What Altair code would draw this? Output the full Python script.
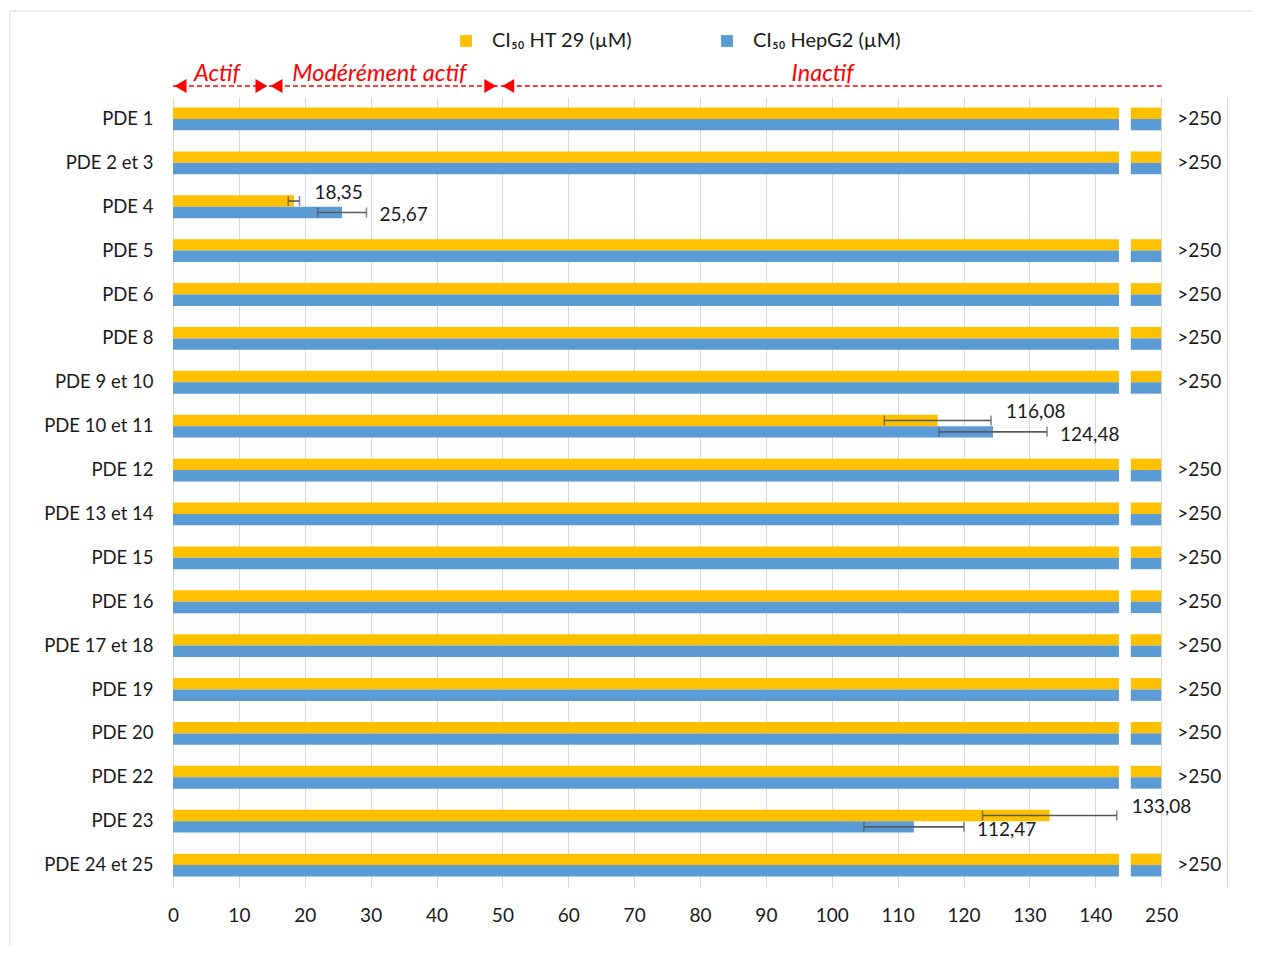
import altair as alt
import pandas as pd

# ---------------- data ----------------
categories = ["PDE 1", "PDE 2 et 3", "PDE 4", "PDE 5", "PDE 6", "PDE 8", "PDE 9 et 10",
              "PDE 10 et 11", "PDE 12", "PDE 13 et 14", "PDE 15", "PDE 16", "PDE 17 et 18",
              "PDE 19", "PDE 20", "PDE 22", "PDE 23", "PDE 24 et 25"]
# 250 stands for ">250" (inactive, off-scale)
ht29 = [250, 250, 18.35, 250, 250, 250, 250, 116.08, 250, 250, 250, 250, 250, 250, 250, 250, 133.08, 250]
hepg2 = [250, 250, 25.67, 250, 250, 250, 250, 124.48, 250, 250, 250, 250, 250, 250, 250, 250, 112.47, 250]
ht29_err = [0, 0, 0.85, 0, 0, 0, 0, 8.1, 0, 0, 0, 0, 0, 0, 0, 0, 10.2, 0]
hepg2_err = [0, 0, 3.7, 0, 0, 0, 0, 8.2, 0, 0, 0, 0, 0, 0, 0, 0, 7.6, 0]

series_names = ["CI\u2085\u2080 HT 29 (\u00b5M)", "CI\u2085\u2080 HepG2 (\u00b5M)"]
series_colors = ["#FFC000", "#5B9BD5"]

tick_values = [0, 10, 20, 30, 40, 50, 60, 70, 80, 90, 100, 110, 120, 130, 140, 150, 160]

zone_labels = ["Actif", "Modérément actif", "Inactif"]
zone_start = [0, 14.57, 49.75]
zone_end = [14.57, 49.3, 150.3]

# axis break: values >= 250 are drawn up to 150 with a gap
BREAK_LO, BREAK_HI, CAP = 143.6, 145.4, 150

FONT = "Lato, Carlito, DejaVu Sans"

# ---------------- tables ----------------
bars, errs, labels, over = [], [], [], []
for i, c in enumerate(categories):
    for s, vals, ers in ((series_names[0], ht29, ht29_err), (series_names[1], hepg2, hepg2_err)):
        v = vals[i]
        if v >= 250:
            bars.append(dict(cat=c, s=s, x0=0, x1=BREAK_LO))
            bars.append(dict(cat=c, s=s, x0=BREAK_HI, x1=CAP))
        else:
            bars.append(dict(cat=c, s=s, x0=0, x1=v))
            e = ers[i]
            errs.append(dict(cat=c, s=s, lo=v - e, hi=v + e))
            labels.append(dict(cat=c, s=s, hi=v + e, txt=f"{v:.2f}".replace(".", ",")))
    if ht29[i] >= 250 and hepg2[i] >= 250:
        over.append(dict(cat=c, txt=">250", x=155.8))

bars_df = pd.DataFrame(bars)
errs_df = pd.DataFrame(errs)
labels_df = pd.DataFrame(labels)
over_df = pd.DataFrame(over)
zones_df = pd.DataFrame(dict(lab=zone_labels, x0=zone_start, x1=zone_end,
                             mid=[(a + b) / 2 - (1.4 if n == "Inactif" else 0.6) for a, b, n in zip(zone_start, zone_end, zone_labels)]))
left_heads = zones_df.copy()
right_heads = zones_df[zones_df.lab != "Inactif"].copy()

PX = 1054 / 160.0
HALF = 7.5 / PX

xscale = alt.Scale(domain=[0, 160], nice=False, zero=True)
yscale = alt.Scale(domain=categories, paddingInner=0.48, paddingOuter=0.24)
yoff = alt.YOffset("s:N", scale=alt.Scale(domain=series_names, paddingInner=0, paddingOuter=0))

xaxis = alt.Axis(values=tick_values, title=None, grid=True, gridColor="#d9d9d9", gridWidth=1,
                 domain=False, ticks=False, labelFontSize=19, labelPadding=19, labelColor="#1a1a1a",
                 labelFont=FONT, labelFlush=False,
                 labelExpr="datum.value == 150 ? '250' : (datum.value == 160 ? '' : datum.label)")
yaxis = alt.Axis(title=None, ticks=False, domain=False, grid=False, labelFontSize=18.5, labelPadding=20,
                 labelColor="#1a1a1a", labelFont=FONT)

base_y = alt.Y("cat:N", scale=yscale, axis=yaxis, sort=categories)

frame = alt.Chart(pd.DataFrame({"a": [0]})).mark_rect(fill="transparent", stroke="#d9d9d9", strokeWidth=1).encode(
    x=alt.value(-163), x2=alt.value(1100), y=alt.value(-86), y2=alt.value(1000))

bar = alt.Chart(bars_df).mark_bar(opacity=1).encode(
    x=alt.X("x0:Q", scale=xscale, axis=xaxis),
    x2="x1:Q",
    y=base_y,
    yOffset=yoff,
    color=alt.Color("s:N", scale=alt.Scale(domain=series_names, range=series_colors),
                    legend=alt.Legend(title=None, orient="none", direction="horizontal", columns=2,
                                      legendX=283, legendY=-66, padding=0, symbolType="square",
                                      symbolSize=140, symbolStrokeWidth=0, labelFontSize=20,
                                      labelFont=FONT, labelColor="#1a1a1a", labelOffset=16,
                                      columnPadding=84)),
)

err_rule = alt.Chart(errs_df).mark_rule(color="#595959", strokeWidth=1.6).encode(
    x=alt.X("lo:Q", scale=xscale), x2="hi:Q", y=base_y, yOffset=yoff)
cap_lo = alt.Chart(errs_df).mark_tick(color="#595959", thickness=1.6, size=10).encode(
    x=alt.X("lo:Q", scale=xscale), y=base_y, yOffset=yoff)
cap_hi = alt.Chart(errs_df).mark_tick(color="#595959", thickness=1.6, size=10).encode(
    x=alt.X("hi:Q", scale=xscale), y=base_y, yOffset=yoff)

lab_ht = alt.Chart(labels_df[labels_df.s == series_names[0]]).mark_text(
    align="left", baseline="middle", dx=15, dy=-8, fontSize=19, font=FONT, color="#1a1a1a").encode(
    x=alt.X("hi:Q", scale=xscale), y=base_y, yOffset=yoff, text="txt:N")
lab_hep = alt.Chart(labels_df[labels_df.s == series_names[1]]).mark_text(
    align="left", baseline="middle", dx=13, dy=3, fontSize=19, font=FONT, color="#1a1a1a").encode(
    x=alt.X("hi:Q", scale=xscale), y=base_y, yOffset=yoff, text="txt:N")

over_txt = alt.Chart(over_df).mark_text(align="center", baseline="middle", fontSize=19, font=FONT,
                                        color="#1a1a1a").encode(
    x=alt.X("x:Q", scale=xscale), y=base_y, text="txt:N")

dash = alt.Chart(zones_df).mark_rule(color="#FF0000", strokeDash=[5, 3], strokeWidth=1.3).encode(
    x=alt.X("x0:Q", scale=xscale), x2="x1:Q", y=alt.value(-11))
lh = alt.Chart(left_heads).transform_calculate(xc=f"datum.x0 + {HALF}").mark_point(
    shape="triangle-left", filled=True, color="#FF0000", size=190, opacity=1).encode(
    x=alt.X("xc:Q", scale=xscale), y=alt.value(-11))
rh = alt.Chart(right_heads).transform_calculate(xc=f"datum.x1 - {HALF}").mark_point(
    shape="triangle-right", filled=True, color="#FF0000", size=190, opacity=1).encode(
    x=alt.X("xc:Q", scale=xscale), y=alt.value(-11))
zone_txt = alt.Chart(zones_df).mark_text(fontStyle="italic", fontSize=23.5, font=FONT, color="#FF0000",
                                         baseline="middle").encode(
    x=alt.X("mid:Q", scale=xscale), y=alt.value(-23), text="lab:N")

chart = alt.layer(frame, bar, err_rule, cap_lo, cap_hi, lab_ht, lab_hep, over_txt, dash, lh, rh, zone_txt).properties(
    width=1054, height=790,
    autosize=alt.AutoSizeParams(type="none"),
    padding={"left": 165, "top": 89, "right": 26, "bottom": 59},
    background="white",
).configure_view(stroke=None)

chart.save("out.html", embed_options={"renderer": "svg", "actions": False})
